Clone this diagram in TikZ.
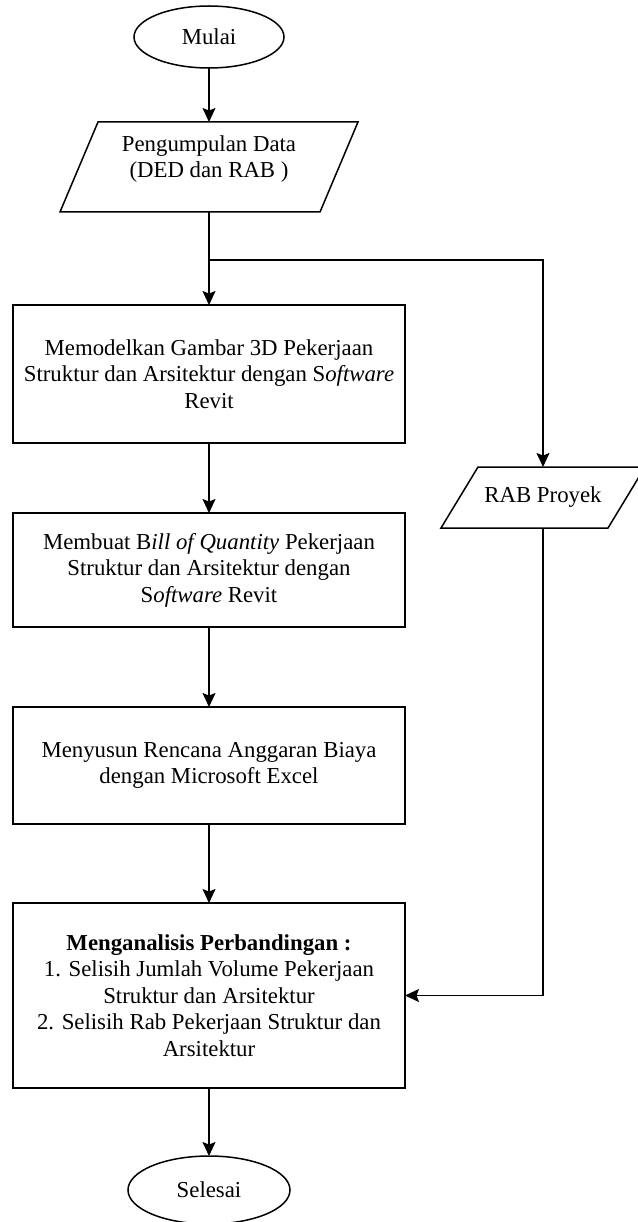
\documentclass[tikz,border=0pt]{standalone}
\usepackage{fontspec}
\setmainfont{Liberation Serif}
\usetikzlibrary{shapes.geometric,arrows.meta,calc}
\begin{document}
\begin{tikzpicture}[x=1pt,y=-1pt,
  every node/.style={inner sep=0pt,outer sep=0pt,font=\fontsize{22.8}{26.5}\selectfont,align=center},
  conn/.style={line width=1.5pt},
  arr/.style={conn,-{Stealth[length=14pt,width=13pt,inset=2.5pt]}},
  terminal/.style={ellipse,draw,line width=1.5pt},
  procbox/.style={rectangle,draw,line width=1.5pt,minimum width=392pt},
  iobox/.style={rectangle}
]
\useasboundingbox (0,0) rectangle (637,1222);
\fill[white] (0,0) rectangle (637,1222);

\node[terminal,minimum width=150pt,minimum height=62pt] (mulai) at (209,37) {Mulai};

\node[iobox,minimum width=260pt,minimum height=90pt] (data) at (209,167) {};
\draw[conn] ([xshift=-19pt]data.south west) -- ([xshift=19pt]data.north west)
  -- ([xshift=19pt]data.north east) -- ([xshift=-19pt]data.south east) -- cycle;
\node (datatext) at (209,159) {Pengumpulan Data\\(DED dan RAB )};

\coordinate (split) at (209,260);

\node[procbox,minimum height=138pt] (model) at (209,374)
  {Memodelkan Gambar 3D Pekerjaan\\Struktur dan Arsitektur dengan S\textit{oftware}\\Revit};

\node[procbox,minimum height=114pt] (boq) at (209,570)
  {Membuat B\textit{ill of Quantity} Pekerjaan\\Struktur dan Arsitektur dengan\\S\textit{oftware} Revit};

\node[procbox,minimum height=117pt] (rab) at (209,765.5)
  {Menyusun Rencana Anggaran Biaya\\dengan Microsoft Excel};

\node[procbox,minimum height=185pt] (analisis) at (209,995.5)
  {\textbf{Menganalisis Perbandingan :}\\1. Selisih Jumlah Volume Pekerjaan\\Struktur dan Arsitektur\\2. Selisih Rab Pekerjaan Struktur dan\\Arsitektur};

\node[terminal,minimum width=162pt,minimum height=68pt] (selesai) at (209,1190) {Selesai};

\node[iobox,minimum width=167pt,minimum height=61pt] (rabproyek) at (543,497.5) {RAB Proyek};
\draw[conn] ([xshift=-18.5pt]rabproyek.south west) -- ([xshift=18.5pt]rabproyek.north west)
  -- ([xshift=18.5pt]rabproyek.north east) -- ([xshift=-18.5pt]rabproyek.south east) -- cycle;

\draw[arr] (mulai.south) -- (data.north);
\draw[conn] (data.south) -- (split);
\draw[arr] (split) -- (model.north);
\draw[arr] (split) -| (rabproyek.north);
\draw[arr] (model.south) -- (boq.north);
\draw[arr] (boq.south) -- (rab.north);
\draw[arr] (rab.south) -- (analisis.north);
\draw[arr] (analisis.south) -- (selesai.north);
\draw[arr] (rabproyek.south) |- (analisis.east);
\end{tikzpicture}
\end{document}
